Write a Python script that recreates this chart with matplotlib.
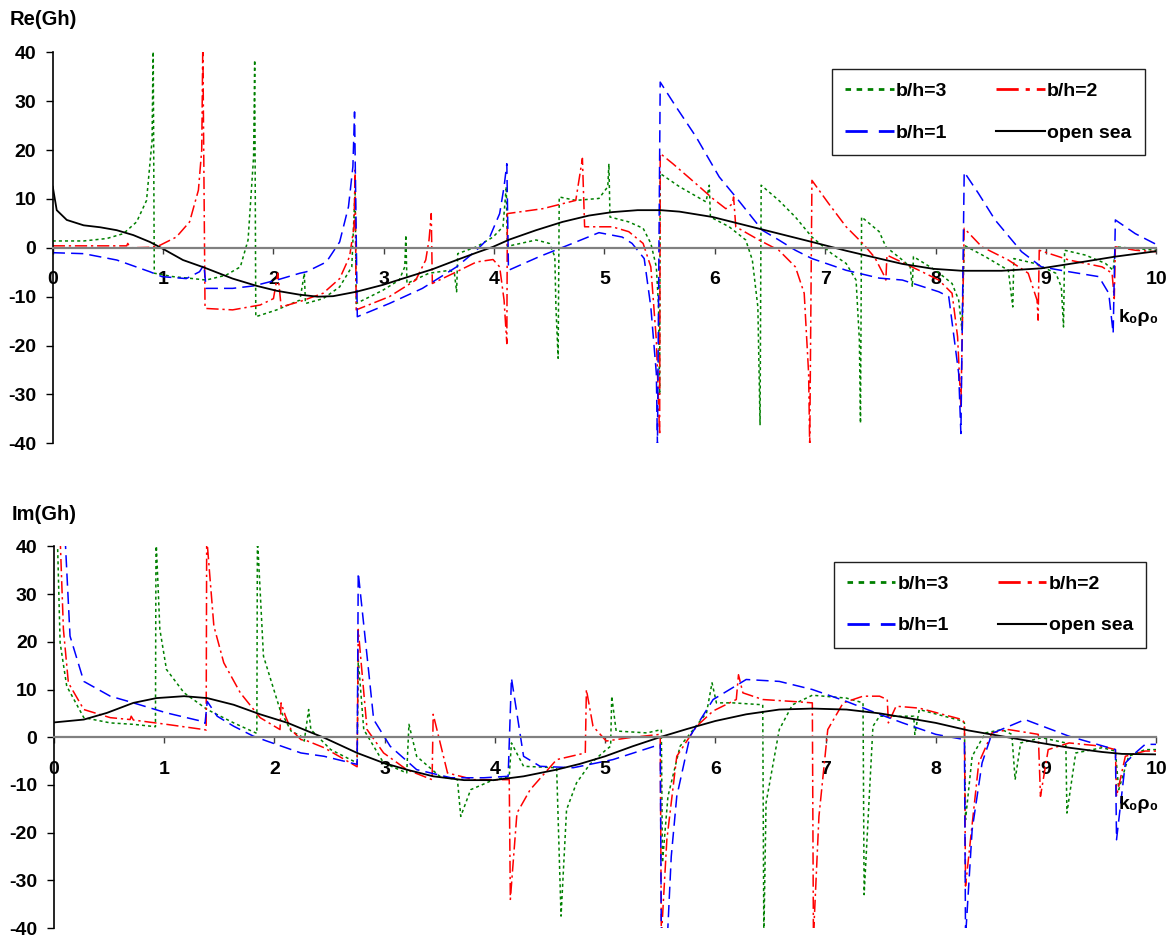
"""
Re(Gh) / Im(Gh) vs k0*rho0 for several b/h ratios plus the open-sea reference.
Values read off the published figure.
"""

import numpy as np
import matplotlib
matplotlib.use("Agg")
import matplotlib.pyplot as plt
from matplotlib.lines import Line2D

plt.rcParams["font.family"] = ["Liberation Sans", "DejaVu Sans"]
plt.rcParams["font.weight"] = "bold"
plt.rcParams["axes.unicode_minus"] = False

# ── colours / line styles ──
COLOR_BH3 = "#008000"   # green, dotted
COLOR_BH2 = "#FF0000"   # red, dash-dot
COLOR_BH1 = "#0000FF"   # blue, dashed
COLOR_OPEN = "#000000"  # black, solid

LS_BH3 = (0, (2, 2))
LS_BH2 = (0, (8, 2.5, 1.5, 2.5))
LS_BH1 = (0, (8, 4))
LS_OPEN = "-"

LABELS = ["b/h=3", "b/h=1", "b/h=2", "open sea"]

# ── Re(Gh): (k0rho0, value) ──
re_open = [(0, 12.5), (0.036, 7.7), (0.127, 5.7), (0.28, 4.6), (0.43, 4.2),
           (0.58, 3.6), (0.73, 2.6), (0.88, 1.2), (0.99, -0.1), (1.18, -2.5),
           (1.38, -4.1), (1.63, -6.3), (1.85, -7.8), (2.03, -8.8), (2.24, -9.6),
           (2.40, -10.0), (2.54, -9.9), (2.75, -9.0), (2.99, -7.6), (3.2, -6.1),
           (3.44, -4.4), (3.66, -2.5), (3.84, -1.0), (3.99, 0.2), (4.14, 1.7),
           (4.38, 3.6), (4.62, 5.3), (4.86, 6.6), (5.07, 7.3), (5.30, 7.7),
           (5.51, 7.7), (5.68, 7.4), (5.98, 6.3), (6.28, 4.6), (6.58, 2.9),
           (6.88, 1.2), (7.19, -0.6), (7.49, -2.2), (7.70, -3.3), (7.98, -4.3),
           (8.24, -4.7), (8.60, -4.7), (8.96, -4.2), (9.33, -2.9), (9.63, -1.8),
           (10.0, -0.7)]

re_bh1 = [(0, -1.0), (0.28, -1.2), (0.58, -2.5), (0.88, -4.9), (0.99, -5.9),
          (1.21, -6.3), (1.33, -4.9), (1.37, -3.5), (1.39, -8.3), (1.63, -8.3),
          (1.82, -7.8), (2.03, -6.6), (2.24, -5.2), (2.30, -4.9), (2.48, -2.9),
          (2.60, 1.2), (2.68, 8.4), (2.72, 16.6), (2.735, 27.8), (2.76, -14.1),
          (3.05, -11.4), (3.35, -8.3), (3.66, -3.9), (3.84, -0.5), (3.96, 2.2),
          (4.05, 7.0), (4.09, 12.5), (4.115, 17.2), (4.13, -4.6), (4.41, -1.8),
          (4.71, 0.9), (4.95, 3.1), (5.16, 2.2), (5.25, 0.9), (5.36, -2.2),
          (5.42, -12.1), (5.47, -25.7), (5.48, -40.4), (5.505, 33.9), (5.65, 28.8),
          (5.83, 22.7), (6.04, 14.5), (6.19, 10.4), (6.43, 3.6), (6.58, 1.6),
          (6.73, -0.5), (6.88, -2.2), (7.19, -4.6), (7.49, -6.2), (7.70, -6.6),
          (8.03, -9.0), (8.12, -10.0), (8.21, -25.7), (8.23, -38.0), (8.26, 15.5),
          (8.39, 11.1), (8.54, 5.7), (8.78, -0.8), (8.96, -3.9), (9.21, -4.9),
          (9.48, -5.9), (9.57, -9.3), (9.61, -17.5), (9.63, 5.7), (9.81, 2.9),
          (10.0, 0.7)]

re_bh2 = [(0, 0.4), (0.67, 0.4), (0.68, 0.9), (0.70, 0.0), (0.88, 0.1),
          (0.97, 0.5), (1.12, 2.2), (1.24, 5.3), (1.32, 11.8), (1.35, 20.0),
          (1.36, 42), (1.38, -12.4), (1.63, -12.7), (1.88, -11.7), (2.0, -10.4),
          (2.04, -5.2), (2.07, -12.1), (2.24, -11.0), (2.45, -9.3), (2.60, -6.3),
          (2.69, -1.8), (2.73, 4.3), (2.74, 15.9), (2.75, -12.7), (3.05, -10.0),
          (3.29, -6.6), (3.38, -2.5), (3.41, 1.6), (3.43, 7.0), (3.44, -7.3),
          (3.66, -4.9), (3.84, -2.9), (3.99, -2.4), (4.05, -3.9), (4.09, -10.7),
          (4.115, -19.6), (4.12, 7.0), (4.44, 8.0), (4.74, 9.7), (4.80, 18.3),
          (4.82, 4.3), (5.07, 4.3), (5.22, 3.3), (5.35, 0.9), (5.42, -3.9),
          (5.47, -18.9), (5.50, -38.3), (5.505, 19.3), (5.62, 17.2), (5.83, 13.1),
          (5.98, 10.1), (6.10, 8.0), (6.16, 9.0), (6.17, 10.4), (6.19, 4.3),
          (6.40, 1.6), (6.58, -0.5), (6.73, -3.9), (6.81, -9.3), (6.85, -25.7),
          (6.86, -41), (6.88, 13.8), (7.03, 9.1), (7.19, 4.3), (7.34, 0.9),
          (7.45, -2.0), (7.53, -5.5), (7.55, -6.6), (7.56, -1.5), (7.85, -4.6),
          (8.03, -6.6), (8.15, -9.3), (8.20, -18.2), (8.23, -32.5), (8.26, 4.0),
          (8.42, 0.2), (8.66, -2.5), (8.84, -5.2), (8.92, -10.7), (8.93, -14.8),
          (8.94, -0.5), (9.21, -2.5), (9.51, -3.9), (9.60, -5.2), (9.62, -10.4),
          (9.63, 0.2), (9.81, -0.5), (10.0, -0.8)]

re_bh3 = [(0, 1.4), (0.28, 1.4), (0.49, 1.9), (0.64, 2.9), (0.76, 5.3),
          (0.85, 9.7), (0.90, 22.0), (0.91, 42), (0.92, -5.2), (1.09, -5.9),
          (1.27, -6.3), (1.39, -6.6), (1.57, -5.6), (1.70, -3.9), (1.77, 1.6),
          (1.82, 18.6), (1.83, 38.4), (1.84, -14.1), (2.03, -12.7), (2.24, -10.7),
          (2.28, -5.2), (2.29, -11.4), (2.45, -10.4), (2.60, -8.0), (2.71, -3.9),
          (2.74, 11.8), (2.75, -11.4), (2.99, -8.7), (3.14, -6.6), (3.19, -3.9),
          (3.20, 2.6), (3.21, -7.3), (3.41, -5.2), (3.60, -4.6), (3.64, -5.2),
          (3.66, -9.0), (3.67, -1.2), (3.84, 0.2), (3.99, 2.2), (4.08, 4.3),
          (4.11, 12.5), (4.12, 0.3), (4.38, 1.6), (4.50, 0.9), (4.55, -1.8),
          (4.56, -12.1), (4.58, -22.6), (4.59, 10.4), (4.74, 9.7), (4.95, 10.1),
          (5.03, 12.5), (5.04, 17.2), (5.05, 6.3), (5.22, 5.3), (5.35, 4.0),
          (5.42, 0.9), (5.47, -3.9), (5.49, -12.0), (5.50, -30.0), (5.505, 15.2),
          (5.68, 12.5), (5.92, 9.4), (5.95, 12.8), (5.96, 6.3), (6.13, 4.3),
          (6.28, 1.6), (6.34, -2.5), (6.39, -12.1), (6.41, -36.3), (6.42, 12.8),
          (6.58, 9.7), (6.73, 6.3), (6.88, 2.2), (7.06, -1.2), (7.19, -3.2),
          (7.28, -6.6), (7.31, -18.9), (7.32, -35.9), (7.33, 6.3), (7.49, 3.3),
          (7.55, 0.2), (7.70, -2.5), (7.77, -3.9), (7.79, -8.0), (7.80, -1.8),
          (8.0, -4.6), (8.15, -7.3), (8.21, -10.7), (8.24, -16.8), (8.26, 0.5),
          (8.45, -1.8), (8.66, -4.6), (8.70, -12.1), (8.71, -2.2), (8.90, -3.2),
          (9.09, -5.2), (9.14, -8.0), (9.16, -16.2), (9.17, -0.5), (9.36, -1.5),
          (9.54, -3.2), (9.61, -4.6), (9.63, 0.2), (10.0, -0.5)]

# ── Im(Gh): (k0rho0, value) ──
im_open = [(0, 3.1), (0.27, 3.7), (0.48, 5.1), (0.72, 7.2), (0.93, 8.2),
           (1.18, 8.6), (1.39, 8.2), (1.63, 6.8), (1.87, 4.8), (2.12, 3.0),
           (2.33, 1.0), (2.45, -0.1), (2.75, -3.3), (2.99, -5.4), (3.2, -6.8),
           (3.44, -8.2), (3.72, -9.0), (3.99, -9.0), (4.26, -8.2), (4.56, -6.8),
           (4.77, -5.6), (5.0, -4.0), (5.25, -1.9), (5.51, 0.1), (5.74, 1.7),
           (6.0, 3.4), (6.28, 4.8), (6.58, 5.8), (6.88, 6.0), (7.19, 5.8),
           (7.49, 5.0), (7.70, 4.2), (8.0, 3.0), (8.30, 1.4), (8.60, 0.2),
           (8.90, -1.0), (9.21, -2.2), (9.51, -3.1), (9.69, -3.5), (10.0, -3.6)]

im_bh1 = [(0.10, 42), (0.145, 21.2), (0.27, 11.7), (0.51, 8.6), (0.72, 7.2),
          (1.02, 5.1), (1.33, 3.4), (1.37, 2.9), (1.39, 7.5), (1.48, 4.4),
          (1.63, 2.3), (1.81, 0.2), (1.93, -0.8), (2.24, -3.3), (2.45, -4.0),
          (2.75, -5.7), (2.76, 34.5), (2.84, 17.0), (2.90, 3.7), (3.05, -1.9),
          (3.29, -6.8), (3.6, -8.5), (3.9, -8.5), (4.12, -8.2), (4.15, 12.4),
          (4.26, -4.0), (4.41, -6.1), (4.71, -6.4), (4.86, -5.7), (5.07, -4.7),
          (5.50, -1.5), (5.51, -42), (5.565, -42), (5.60, -25.0), (5.65, -12.4),
          (5.77, 0.2), (5.98, 7.9), (6.28, 12.1), (6.58, 11.7), (6.88, 10.0),
          (7.19, 7.5), (7.49, 4.8), (7.70, 3.0), (8.0, 0.6), (8.26, -0.5),
          (8.27, -42), (8.33, -19.4), (8.42, -5.4), (8.51, 0.8), (8.81, 3.7),
          (9.21, 0.2), (9.63, -2.6), (9.64, -21.5), (9.72, -5.4), (9.81, -3.3),
          (9.90, -1.5), (10.0, -1.5)]

im_bh2 = [(0.055, 42), (0.085, 22.6), (0.13, 11.4), (0.27, 5.8), (0.51, 4.1),
          (0.69, 3.7), (0.70, 4.4), (0.72, 3.6), (1.02, 2.7), (1.36, 1.6),
          (1.38, 1.5), (1.385, 42), (1.45, 23.3), (1.54, 15.6), (1.69, 9.3),
          (1.87, 4.1), (2.05, 1.6), (2.06, 7.2), (2.10, 4.4), (2.15, 1.6),
          (2.24, -0.5), (2.30, -0.8), (2.45, -2.2), (2.75, -6.2), (2.76, 22.6),
          (2.84, 1.6), (2.99, -3.3), (3.2, -6.8), (3.43, -8.9), (3.44, 4.8),
          (3.57, -7.5), (3.81, -8.9), (4.13, -8.9), (4.14, -34.0), (4.20, -15.9),
          (4.32, -11.0), (4.56, -4.7), (4.82, -3.3), (4.83, 10.0), (4.89, 2.3),
          (5.01, -0.8), (5.22, -0.1), (5.50, 0.6), (5.51, -42), (5.56, -21.5),
          (5.65, -4.0), (5.83, 2.3), (5.98, 5.5), (6.19, 7.9), (6.21, 13.1),
          (6.25, 9.3), (6.43, 7.9), (6.70, 7.5), (6.88, 7.2), (6.89, -42),
          (6.94, -16.6), (7.02, 1.6), (7.16, 7.2), (7.34, 8.6), (7.49, 8.6),
          (7.56, 7.9), (7.57, 3.0), (7.64, 6.5), (7.85, 6.1), (8.24, 3.7),
          (8.26, 3.0), (8.27, -31.2), (8.39, -5.4), (8.51, 0.9), (8.66, 1.6),
          (8.93, 0.6), (8.95, -12.4), (9.02, -2.6), (9.21, -1.2), (9.51, -1.9),
          (9.63, -2.6), (9.64, -12.4), (9.72, -4.0), (9.90, -2.9), (10.0, -2.9)]

im_bh3 = [(0.03, 42), (0.055, 19.8), (0.115, 10.7), (0.27, 4.1), (0.51, 3.0),
          (0.72, 2.7), (0.92, 2.2), (0.925, 42), (0.96, 22.6), (1.02, 14.2),
          (1.18, 9.3), (1.39, 5.8), (1.63, 3.0), (1.84, 0.8), (1.845, 42),
          (1.90, 17.0), (2.05, 5.8), (2.15, 1.3), (2.24, 0.2), (2.27, -0.8),
          (2.31, 5.8), (2.33, 1.6), (2.51, -2.6), (2.75, -5.4), (2.76, 16.3),
          (2.81, 1.6), (2.99, -5.4), (3.2, -7.5), (3.22, 2.7), (3.29, -4.0),
          (3.5, -8.2), (3.66, -8.9), (3.69, -16.6), (3.78, -11.0), (3.96, -9.2),
          (4.13, -8.2), (4.15, -1.2), (4.26, -6.1), (4.56, -6.4), (4.60, -37.5),
          (4.65, -15.2), (4.74, -9.6), (4.86, -5.7), (5.01, -2.6), (5.05, -1.9),
          (5.06, 8.6), (5.10, 1.3), (5.38, 0.9), (5.51, 1.6), (5.52, -26.3),
          (5.57, -12.4), (5.68, -1.9), (5.92, 5.1), (5.97, 11.4), (6.01, 7.2),
          (6.16, 7.2), (6.43, 6.8), (6.44, -42), (6.46, -13.8), (6.58, 1.6),
          (6.70, 6.8), (6.88, 8.8), (7.19, 8.2), (7.34, 7.2), (7.35, -33.0),
          (7.43, 2.3), (7.49, 4.4), (7.70, 4.4), (7.80, 4.4), (7.81, 0.6),
          (7.85, 5.8), (8.24, 3.4), (8.26, 3.0), (8.27, -17.3), (8.33, -4.0),
          (8.45, 0.9), (8.60, 1.6), (8.69, 0.6), (8.72, -8.9), (8.77, -1.2),
          (8.96, -0.1), (9.18, -1.2), (9.19, -15.9), (9.27, -3.3), (9.51, -2.2),
          (9.63, -2.9), (9.66, -11.0), (9.75, -4.0), (9.90, -2.6), (10.0, -2.6)]

X_TICKS = list(range(0, 11))
Y_TICKS = list(range(-40, 41, 10))


def draw_panel(ax, bh3, bh2, bh1, open_sea, legend_anchor):
    for pts, color, ls, lw in [(bh3, COLOR_BH3, LS_BH3, 1.1),
                               (bh2, COLOR_BH2, LS_BH2, 1.1),
                               (bh1, COLOR_BH1, LS_BH1, 1.1),
                               (open_sea, COLOR_OPEN, LS_OPEN, 1.3)]:
        arr = np.array(pts)
        ax.plot(arr[:, 0], arr[:, 1], color=color, linestyle=ls, linewidth=lw)

    ax.set_xlim(0, 10)
    ax.set_ylim(-40, 40)
    ax.set_xticks(X_TICKS)
    ax.set_yticks(Y_TICKS)

    # x axis sits on y=0 in grey, ticks/labels below it
    ax.spines["bottom"].set_position(("data", 0))
    ax.spines["bottom"].set_color("#808080")
    ax.spines["bottom"].set_linewidth(1.6)
    ax.spines["left"].set_linewidth(1.2)
    ax.spines["top"].set_visible(False)
    ax.spines["right"].set_visible(False)
    ax.tick_params(axis="x", direction="out", length=4, width=1, color="#404040",
                   pad=13, labelsize=14)
    ax.tick_params(axis="y", direction="out", length=5, width=1, pad=7,
                   labelsize=14)

    ax.text(10.02, -14.2, "k\u2080\u03c1\u2080", ha="right", va="center",
            fontsize=14, fontweight="bold")

    handles = [Line2D([], [], color=COLOR_BH3, linestyle=LS_BH3, linewidth=2),
               Line2D([], [], color=COLOR_BH1, linestyle=LS_BH1, linewidth=2),
               Line2D([], [], color=COLOR_BH2, linestyle=LS_BH2, linewidth=2),
               Line2D([], [], color=COLOR_OPEN, linestyle=LS_OPEN, linewidth=1.5)]
    leg = ax.legend(handles, LABELS, ncol=2, loc="upper right",
                    bbox_to_anchor=legend_anchor, borderaxespad=0,
                    fontsize=14, handlelength=2.5, handletextpad=0.12,
                    columnspacing=2.5, labelspacing=1.25, borderpad=0.68,
                    fancybox=False, framealpha=1)
    leg.get_frame().set_edgecolor("#202020")
    leg.get_frame().set_linewidth(1.0)


fig = plt.figure(figsize=(11.75, 9.39), dpi=100)
ax_re = fig.add_axes([0.0449, 0.5279, 0.9391, 0.4164])
ax_im = fig.add_axes([0.0460, 0.0117, 0.9380, 0.4064])

draw_panel(ax_re, re_bh3, re_bh2, re_bh1, re_open, (0.9894, 0.957))
draw_panel(ax_im, im_bh3, im_bh2, im_bh1, im_open, (0.991, 0.960))

fig.text(10 / 1175, 1 - 19.5 / 939, "Re(Gh)", ha="left", va="center",
         fontsize=14.5, fontweight="bold")
fig.text(12 / 1175, 1 - 515 / 939, "Im(Gh)", ha="left", va="center",
         fontsize=14.5, fontweight="bold")

fig.savefig("out.png", dpi=100)
